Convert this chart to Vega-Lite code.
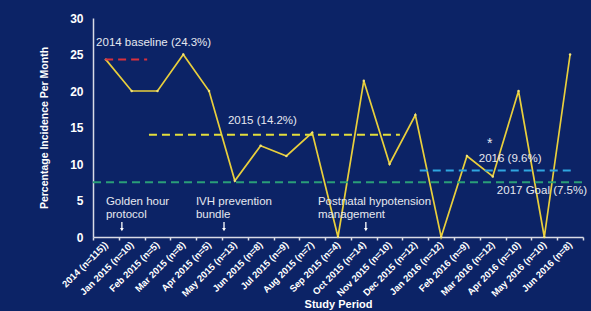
{
  "$schema": "https://vega.github.io/schema/vega-lite/v6.json",
  "autosize": {"type": "none"},
  "width": 490,
  "height": 219,
  "padding": {"left": 93, "top": 18, "right": 8, "bottom": 74},
  "background": "#0c2366",
  "config": {
    "view": {"stroke": null},
    "font": "Liberation Sans"
  },
  "layer": [
    {
      "data": {"values": [
        {"cat": "2014 (n=115))", "v": 24.3},
        {"cat": "Jan 2015 (n=10)", "v": 20},
        {"cat": "Feb 2015 (n=5)", "v": 20},
        {"cat": "Mar 2015 (n=8)", "v": 25},
        {"cat": "Apr 2015 (n=5)", "v": 20},
        {"cat": "May 2015 (n=13)", "v": 7.7},
        {"cat": "Jun 2015 (n=8)", "v": 12.5},
        {"cat": "Jul 2015 (n=9)", "v": 11.1},
        {"cat": "Aug 2015 (n=7)", "v": 14.3},
        {"cat": "Sep 2015 (n=4)", "v": 0},
        {"cat": "Oct 2015 (n=14)", "v": 21.4},
        {"cat": "Nov 2015 (n=10)", "v": 10},
        {"cat": "Dec 2015 (n=12)", "v": 16.7},
        {"cat": "Jan 2016 (n=12)", "v": 0},
        {"cat": "Feb 2016 (n=9)", "v": 11.1},
        {"cat": "Mar 2016 (n=12)", "v": 8.3},
        {"cat": "Apr 2016 (n=10)", "v": 20},
        {"cat": "May 2016 (n=10)", "v": 0},
        {"cat": "Jun 2016 (n=8)", "v": 25}
      ]},
      "mark": {"type": "line", "color": "#e9cf3c", "strokeWidth": 1.7, "point": {"filled": true, "size": 6, "color": "#f2e27a"}},
      "encoding": {
        "x": {
          "field": "cat", "type": "ordinal", "sort": null, "bandPosition": 0.5,
          "scale": {"type": "band", "paddingInner": 0, "paddingOuter": 0},
          "axis": {
            "title": "Study Period", "titleColor": "#ffffff", "titleFont": "Liberation Sans", "titleFontSize": 11, "titleFontWeight": "bold", "titlePadding": 1,
            "tickBand": "extent", "domainColor": "#d9dbe6", "domainWidth": 1.5, "tickColor": "#d9dbe6", "tickSize": 3, "tickWidth": 1.5,
            "labelAngle": -45, "labelAlign": "right", "labelBaseline": "middle", "labelColor": "#ffffff", "labelFontSize": 9.5, "labelFontWeight": "bold", "labelPadding": 3
          }
        },
        "y": {
          "field": "v", "type": "quantitative",
          "scale": {"domain": [0, 30]},
          "axis": {
            "title": "Percentage Incidence Per Month", "titleColor": "#ffffff", "titleFontSize": 10.5, "titleFontWeight": "bold", "titlePadding": 20,
            "values": [0, 5, 10, 15, 20, 25, 30], "labelOverlap": false, "grid": false, "ticks": false, "domainColor": "#d9dbe6", "domainWidth": 1.5,
            "labelColor": "#ffffff", "labelFontSize": 12, "labelFontWeight": "bold", "labelPadding": 10
          }
        }
      }
    },
    {
      "data": {"values": [
        {"name": "2014", "x1": 0.47, "x2": 2.1, "y": 24.3},
        {"name": "2015", "x1": 2.17, "x2": 11.9, "y": 14.0},
        {"name": "2016", "x1": 12.67, "x2": 18.57, "y": 9.1},
        {"name": "goal", "x1": 0, "x2": 19, "y": 7.5}
      ]},
      "mark": {"type": "rule", "strokeWidth": 2, "strokeDash": [8, 5]},
      "encoding": {
        "x": {"field": "x1", "type": "quantitative", "scale": {"domain": [0, 19], "nice": false, "zero": false}, "axis": null},
        "x2": {"field": "x2"},
        "y": {"field": "y", "type": "quantitative", "axis": {"values": [0, 5, 10, 15, 20, 25, 30]}},
        "color": {"field": "name", "type": "nominal", "legend": null,
          "scale": {"domain": ["2014", "2015", "2016", "goal"], "range": ["#d9303c", "#e3de3c", "#2fa6e0", "#2a9e78"]}}
      }
    },
    {
      "data": {"values": [
        {"x": 1.12, "y1": 2.05, "y2": 1.0},
        {"x": 5.08, "y1": 2.05, "y2": 1.0},
        {"x": 10.58, "y1": 2.05, "y2": 1.0}
      ]},
      "layer": [
        {
          "mark": {"type": "rule", "color": "#ffffff", "strokeWidth": 1.3},
          "encoding": {
            "x": {"field": "x", "type": "quantitative", "scale": {"domain": [0, 19], "nice": false, "zero": false}, "axis": null},
            "y": {"field": "y1", "type": "quantitative", "axis": {"values": [0, 5, 10, 15, 20, 25, 30]}},
            "y2": {"field": "y2"}
          }
        },
        {
          "mark": {"type": "point", "shape": "triangle-down", "filled": true, "color": "#ffffff", "size": 14, "opacity": 1},
          "encoding": {
            "x": {"field": "x", "type": "quantitative", "scale": {"domain": [0, 19], "nice": false, "zero": false}, "axis": null},
            "y": {"field": "y2", "type": "quantitative", "axis": {"values": [0, 5, 10, 15, 20, 25, 30]}}
          }
        }
      ]
    },
    {
      "data": {"values": [
        {"x": 0.12, "y": 26.6, "t": "2014 baseline (24.3%)", "s": 11.5},
        {"x": 5.23, "y": 15.9, "t": "2015 (14.2%)", "s": 11.5},
        {"x": 14.96, "y": 10.7, "t": "2016 (9.6%)", "s": 11.5},
        {"x": 15.66, "y": 6.3, "t": "2017 Goal (7.5%)", "s": 11.5},
        {"x": 0.5, "y": 4.8, "t": "Golden hour", "s": 11.5},
        {"x": 0.5, "y": 3.0, "t": "protocol", "s": 11.5},
        {"x": 3.99, "y": 4.8, "t": "IVH prevention", "s": 11.5},
        {"x": 3.99, "y": 3.0, "t": "bundle", "s": 11.5},
        {"x": 8.72, "y": 4.8, "t": "Postnatal hypotension", "s": 11.5},
        {"x": 8.72, "y": 3.0, "t": "management", "s": 11.5},
        {"x": 15.28, "y": 12.7, "t": "*", "s": 14}
      ]},
      "mark": {"type": "text", "align": "left", "baseline": "middle", "color": "#e6e8f0", "font": "Liberation Sans"},
      "encoding": {
        "x": {"field": "x", "type": "quantitative", "scale": {"domain": [0, 19], "nice": false, "zero": false}, "axis": null},
        "y": {"field": "y", "type": "quantitative", "axis": {"values": [0, 5, 10, 15, 20, 25, 30]}},
        "text": {"field": "t"},
        "size": {"field": "s", "type": "quantitative", "scale": null, "legend": null}
      }
    }
  ],
  "resolve": {"scale": {"x": "independent"}}
}
